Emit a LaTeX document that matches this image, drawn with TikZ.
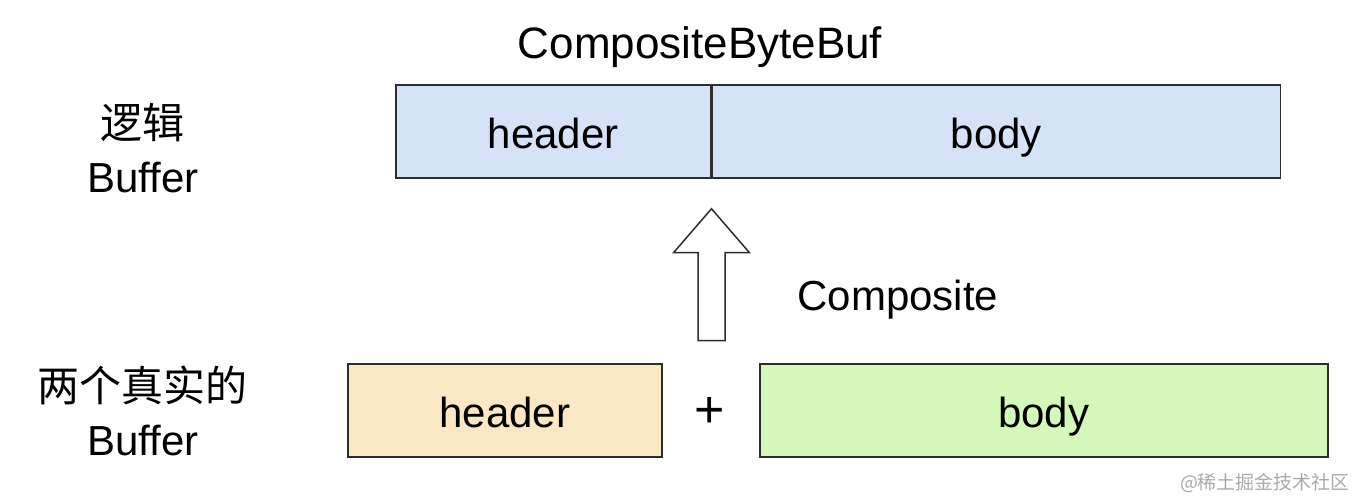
\documentclass[tikz,border=0pt]{standalone}
\usepackage{fontspec}
\setmainfont{Liberation Sans}
\newfontfamily\cjk{Noto Sans CJK SC}
\usepackage{tikz}
\usetikzlibrary{
    arrows.meta,
    positioning,
    calc
}
\definecolor{BufBlue}{RGB}{214,226,248}
\definecolor{BufPeach}{RGB}{251,231,196}
\definecolor{BufGreen}{RGB}{212,248,186}
\definecolor{EdgeGray}{RGB}{45,45,45}
\definecolor{MarkGray}{RGB}{170,170,170}
\tikzset{
    bufbox/.style={
        draw=EdgeGray,
        line width=0.75pt,
        inner sep=0pt,
        minimum height=46.5pt,
        text height=20pt,
        text depth=2.5pt,
        font=\fontsize{21}{25}\selectfont
    },
    sidelabel/.style={
        align=center,
        font=\fontsize{21}{27}\selectfont
    }
}

\begin{document}
\begin{tikzpicture}[x=0.5pt,y=-0.5pt]
%
    \useasboundingbox
    (0,0)
    rectangle
    (1362,497);
%
    \node[
        bufbox,
        fill=BufBlue,
        minimum width=157.5pt,
        anchor=west
    ]
    (lhdr) at (395,131.5) {
        header
    };
%
    \node[
        bufbox,
        fill=BufBlue,
        minimum width=284pt,
        right=0pt of lhdr
    ]
    (lbody) {
        body
    };
%
    \node[
        font=\fontsize{22}{26}\selectfont
    ]
    (cbb) at (700,47) {
        CompositeByteBuf
    };
%
    \node[
        bufbox,
        fill=BufPeach,
        minimum width=157pt,
        anchor=west
    ]
    (rhdr) at (347,410.5) {
        header
    };
%
    \node[
        font=\fontsize{26}{30}\selectfont
    ]
    (plus) at (710,412) {
        +
    };
%
    \node[
        bufbox,
        fill=BufGreen,
        minimum width=284pt,
        anchor=west
    ]
    (rbody) at (759,410.5) {
        body
    };
%
    \node[
        sidelabel
    ]
    (ltxt) at (143,148) {
        {\cjk 逻辑}\\Buffer
    };
%
    \node[
        sidelabel
    ]
    (rtxt) at (143,411) {
        {\cjk 两个真实的}\\Buffer
    };
%
    % hollow block arrow, tip under the divider
    \coordinate (tip) at ($(lhdr.south east)+(0,30)$);
    \draw[
        EdgeGray,
        line width=0.75pt,
        fill=white,
        line join=miter
    ]
    (tip)
    -- ++(38,44)
    -- ++(-24.5,0)
    -- ++(0,88)
    -- ++(-27,0)
    -- ++(0,-88)
    -- ++(-24.5,0)
    -- cycle;
%
    \node[
        font=\fontsize{21}{25}\selectfont
    ]
    (comp) at (898,300) {
        Composite
    };
%
    \node[
        MarkGray,
        font=\cjk\fontsize{9.5}{11}\selectfont
    ]
    (mark) at (1265,483) {
        @稀土掘金技术社区
    };
%
\end{tikzpicture}
\end{document}
